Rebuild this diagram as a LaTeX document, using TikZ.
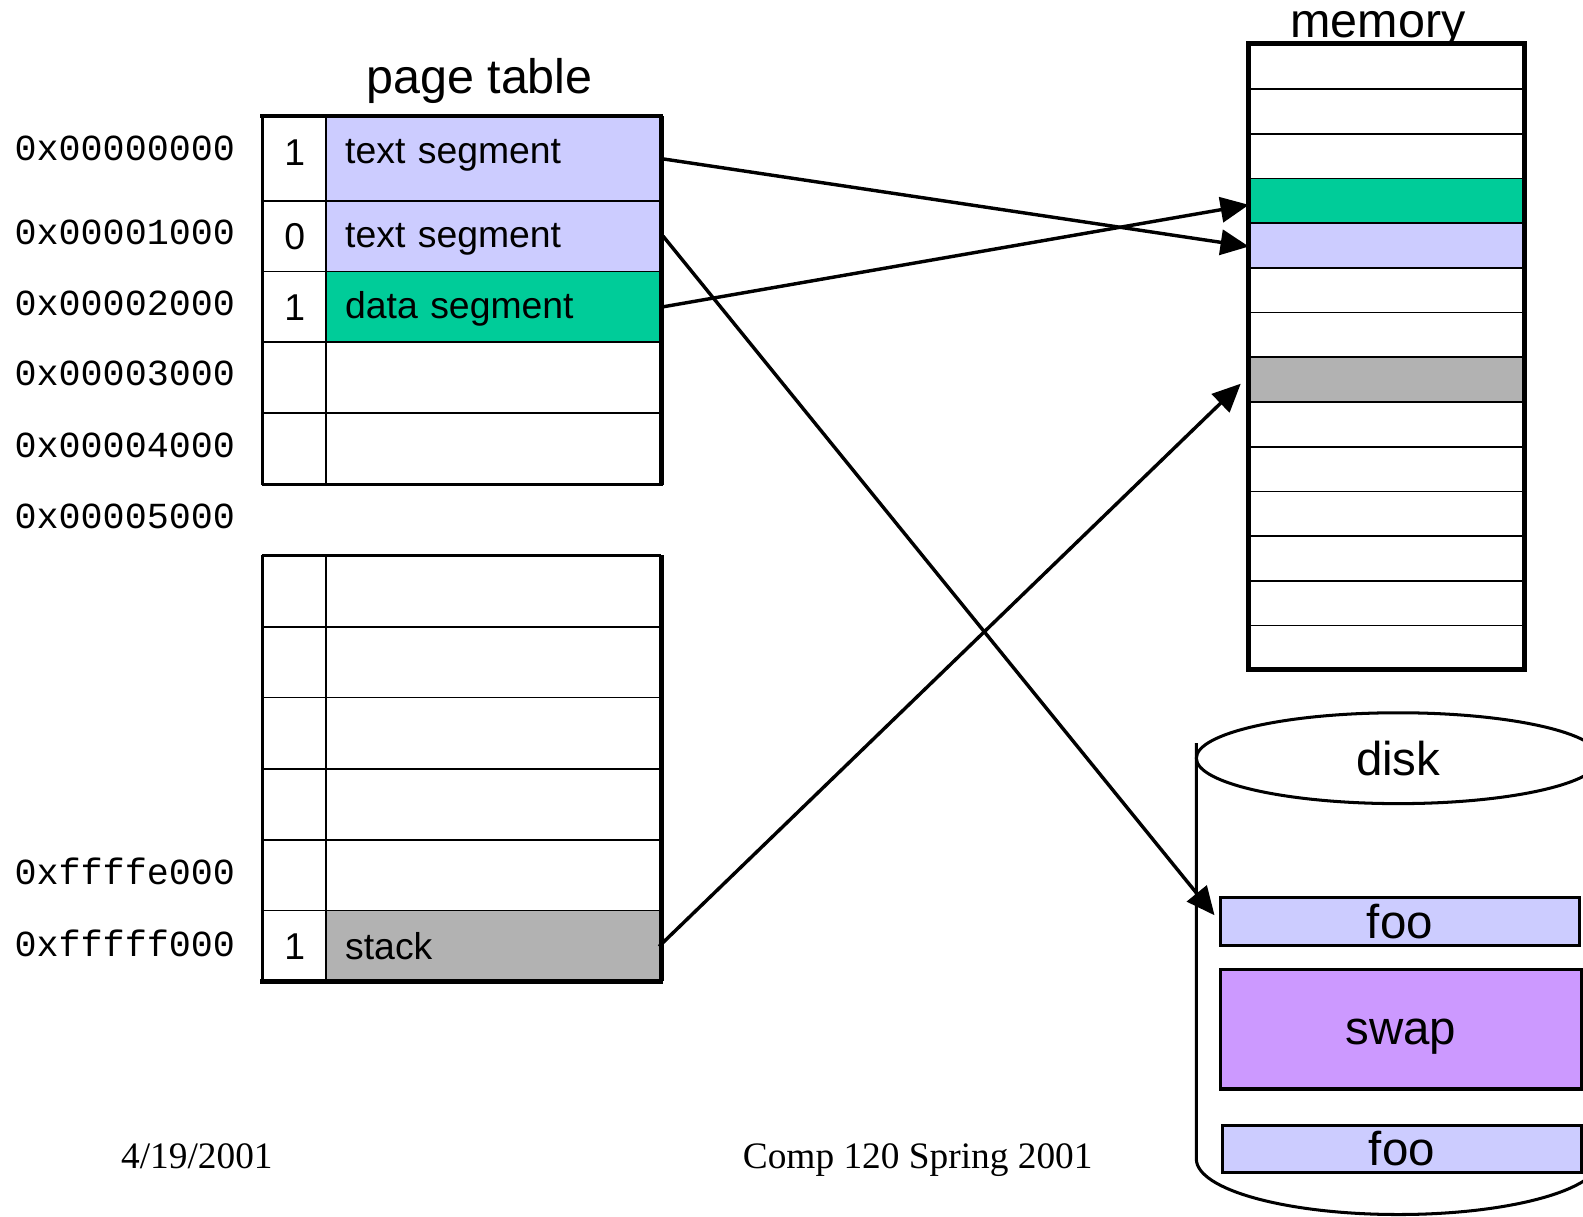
\documentclass[tikz,border=0pt]{standalone}
\usepackage{fontspec}
\setmainfont{Liberation Serif}
\setsansfont{Liberation Sans}
\setmonofont{Liberation Mono}
\usetikzlibrary{arrows.meta}
\definecolor{lav}{HTML}{CCCCFF}
\definecolor{seggreen}{HTML}{00CC99}
\definecolor{stackgray}{HTML}{B2B2B2}
\definecolor{swapviolet}{HTML}{CC99FF}
\begin{document}
\begin{tikzpicture}[x=0.5pt,y=-0.5pt,
  flagcell/.style={draw, line width=0.9pt, anchor=north west, minimum width=31pt, inner sep=0pt,
    text height=13.3pt, font=\sffamily\fontsize{18.5}{20}\selectfont},
  contcell/.style={draw, line width=0.9pt, anchor=north west, minimum width=166.5pt, inner xsep=9.5pt, inner ysep=0pt,
    text width=147.5pt, text height=13.3pt, align=left, font=\sffamily\fontsize{18.5}{20}\selectfont},
  addr/.style={anchor=west, inner sep=0pt, font=\ttfamily\fontsize{18.2}{20}\selectfont},
  title/.style={font=\sffamily\fontsize{24}{26}\selectfont, inner sep=0pt},
  memcell/.style={draw, line width=0.9pt, anchor=north west, minimum width=136.5pt, minimum height=22.14pt, inner sep=0pt},
  diskbox/.style={draw, line width=1.6pt, anchor=north west, inner sep=0pt},
  disktext/.style={font=\sffamily\fontsize{23.5}{25}\selectfont, inner sep=0pt},
  footer/.style={font=\rmfamily\fontsize{18.5}{20}\selectfont, inner sep=0pt, anchor=base},
  conn/.style={line width=1.7pt, -{Triangle[length=14pt,width=12.5pt]}}
]
\useasboundingbox (0,0) rectangle (1568,1205);
\clip (0,0) rectangle (1568,1205);
\fill[white] (0,0) rectangle (1568,1205);

% ---------- page table: upper block ----------
\node[title] (pttitle) at (475,80) {page table};
\foreach \t/\b/\fl/\tx/\col/\fd/\cd [count=\i] in {
   115/198/1/text segment/lav/6.5/8.5,
   198/268/0/text segment/lav/0/2,
   268/338/1/data segment/seggreen/0/2,
   338/408/{}/{}/white/0/2,
   408/480/{}/{}/white/0/2}{
  \node[flagcell, text depth=\fd pt, minimum height={(\b-\t)*0.5pt}] (f\i) at (260,\t) {\fl};
  \node[contcell, text depth=\cd pt, fill=\col, minimum height={(\b-\t)*0.5pt}] (c\i) at (322,\t) {\tx};
}
\draw[line width=2.3pt] (258,115) -- (657,115);
\draw[line width=2.3pt] (655,115) -- (655,480);
\draw[line width=1.4pt] (260,115) -- (260,480);
\draw[line width=1.2pt] (260,480) -- (655,480);

% ---------- page table: lower block ----------
\foreach \t/\b/\fl/\tx/\col [count=\i from 6] in {
   550/620/{}/{}/white,
   620/690/{}/{}/white,
   690/761/{}/{}/white,
   761/831/{}/{}/white,
   831/901/{}/{}/white,
   901/972/1/stack/stackgray}{
  \node[flagcell, text depth=0pt, minimum height={(\b-\t)*0.5pt}] (f\i) at (260,\t) {\fl};
  \node[contcell, text depth=0pt, fill=\col, minimum height={(\b-\t)*0.5pt}] (c\i) at (322,\t) {\tx};
}
\draw[line width=1.2pt] (260,550) -- (655,550);
\draw[line width=2.3pt] (655,550) -- (655,972);
\draw[line width=1.4pt] (260,550) -- (260,972);
\draw[line width=2.3pt] (258,972) -- (657,972);

% ---------- addresses ----------
\node[addr] (a0) at (14,147) {0x00000000};
\node[addr] (a1) at (14,230) {0x00001000};
\node[addr] (a2) at (14,301) {0x00002000};
\node[addr] (a3) at (14,370) {0x00003000};
\node[addr] (a4) at (14,441) {0x00004000};
\node[addr] (a5) at (14,511) {0x00005000};
\node[addr] (a6) at (14,863) {0xffffe000};
\node[addr] (a7) at (14,934) {0xfffff000};

% ---------- memory ----------
\node[title, anchor=base] (memtitle) at (1365,37) {memory};
\foreach \col [count=\i] in {white,white,white,seggreen,lav,white,white,stackgray,white,white,white,white,white,white}{
  \node[memcell, fill=\col] (m\i) at (1237,{43+(\i-1)*44.2857}) {};
}
\draw[line width=2.6pt] (1237,43) rectangle (1510,663);

% ---------- disk ----------
\draw[line width=1.5pt] (1185,736) -- (1185,1148) arc[start angle=180, end angle=360, x radius=100pt, y radius=27.5pt];
\draw[line width=1.5pt] (1385,751) ellipse [x radius=100pt, y radius=22.5pt];
\node[disktext] (disklabel) at (1385,751) {disk};
\node[diskbox, fill=lav, minimum width=178pt, minimum height=24pt] (foo1) at (1207,887) {};
\node[disktext] (foo1t) at (foo1.center) {foo};
\node[diskbox, fill=swapviolet, minimum width=179pt, minimum height=59pt] (swap) at (1207,959) {};
\node[disktext, yshift=-3.5pt] (swapt) at (swap.center) {swap};
\node[diskbox, fill=lav, minimum width=178pt, minimum height=23.5pt] (foo2) at (1209,1113) {};
\node[disktext] (foo2t) at (foo2.center) {foo};

% ---------- connectors ----------
\draw[conn] (c1.east) -- ([yshift=-0.5pt]m5.west);
\draw[conn] (c3.east) -- ([yshift=-2pt]m4.west);
\draw[conn] (c2.east) -- ([xshift=-2pt,yshift=3pt]foo1.west);
\draw[conn] ([xshift=-2pt]c11.east) -- ([xshift=-4pt,yshift=-2pt]m8.west);

% ---------- footer ----------
\node[footer] (date) at (195,1157) {4/19/2001};
\node[footer] (course) at (909,1157) {Comp 120 Spring 2001};
\end{tikzpicture}
\end{document}
